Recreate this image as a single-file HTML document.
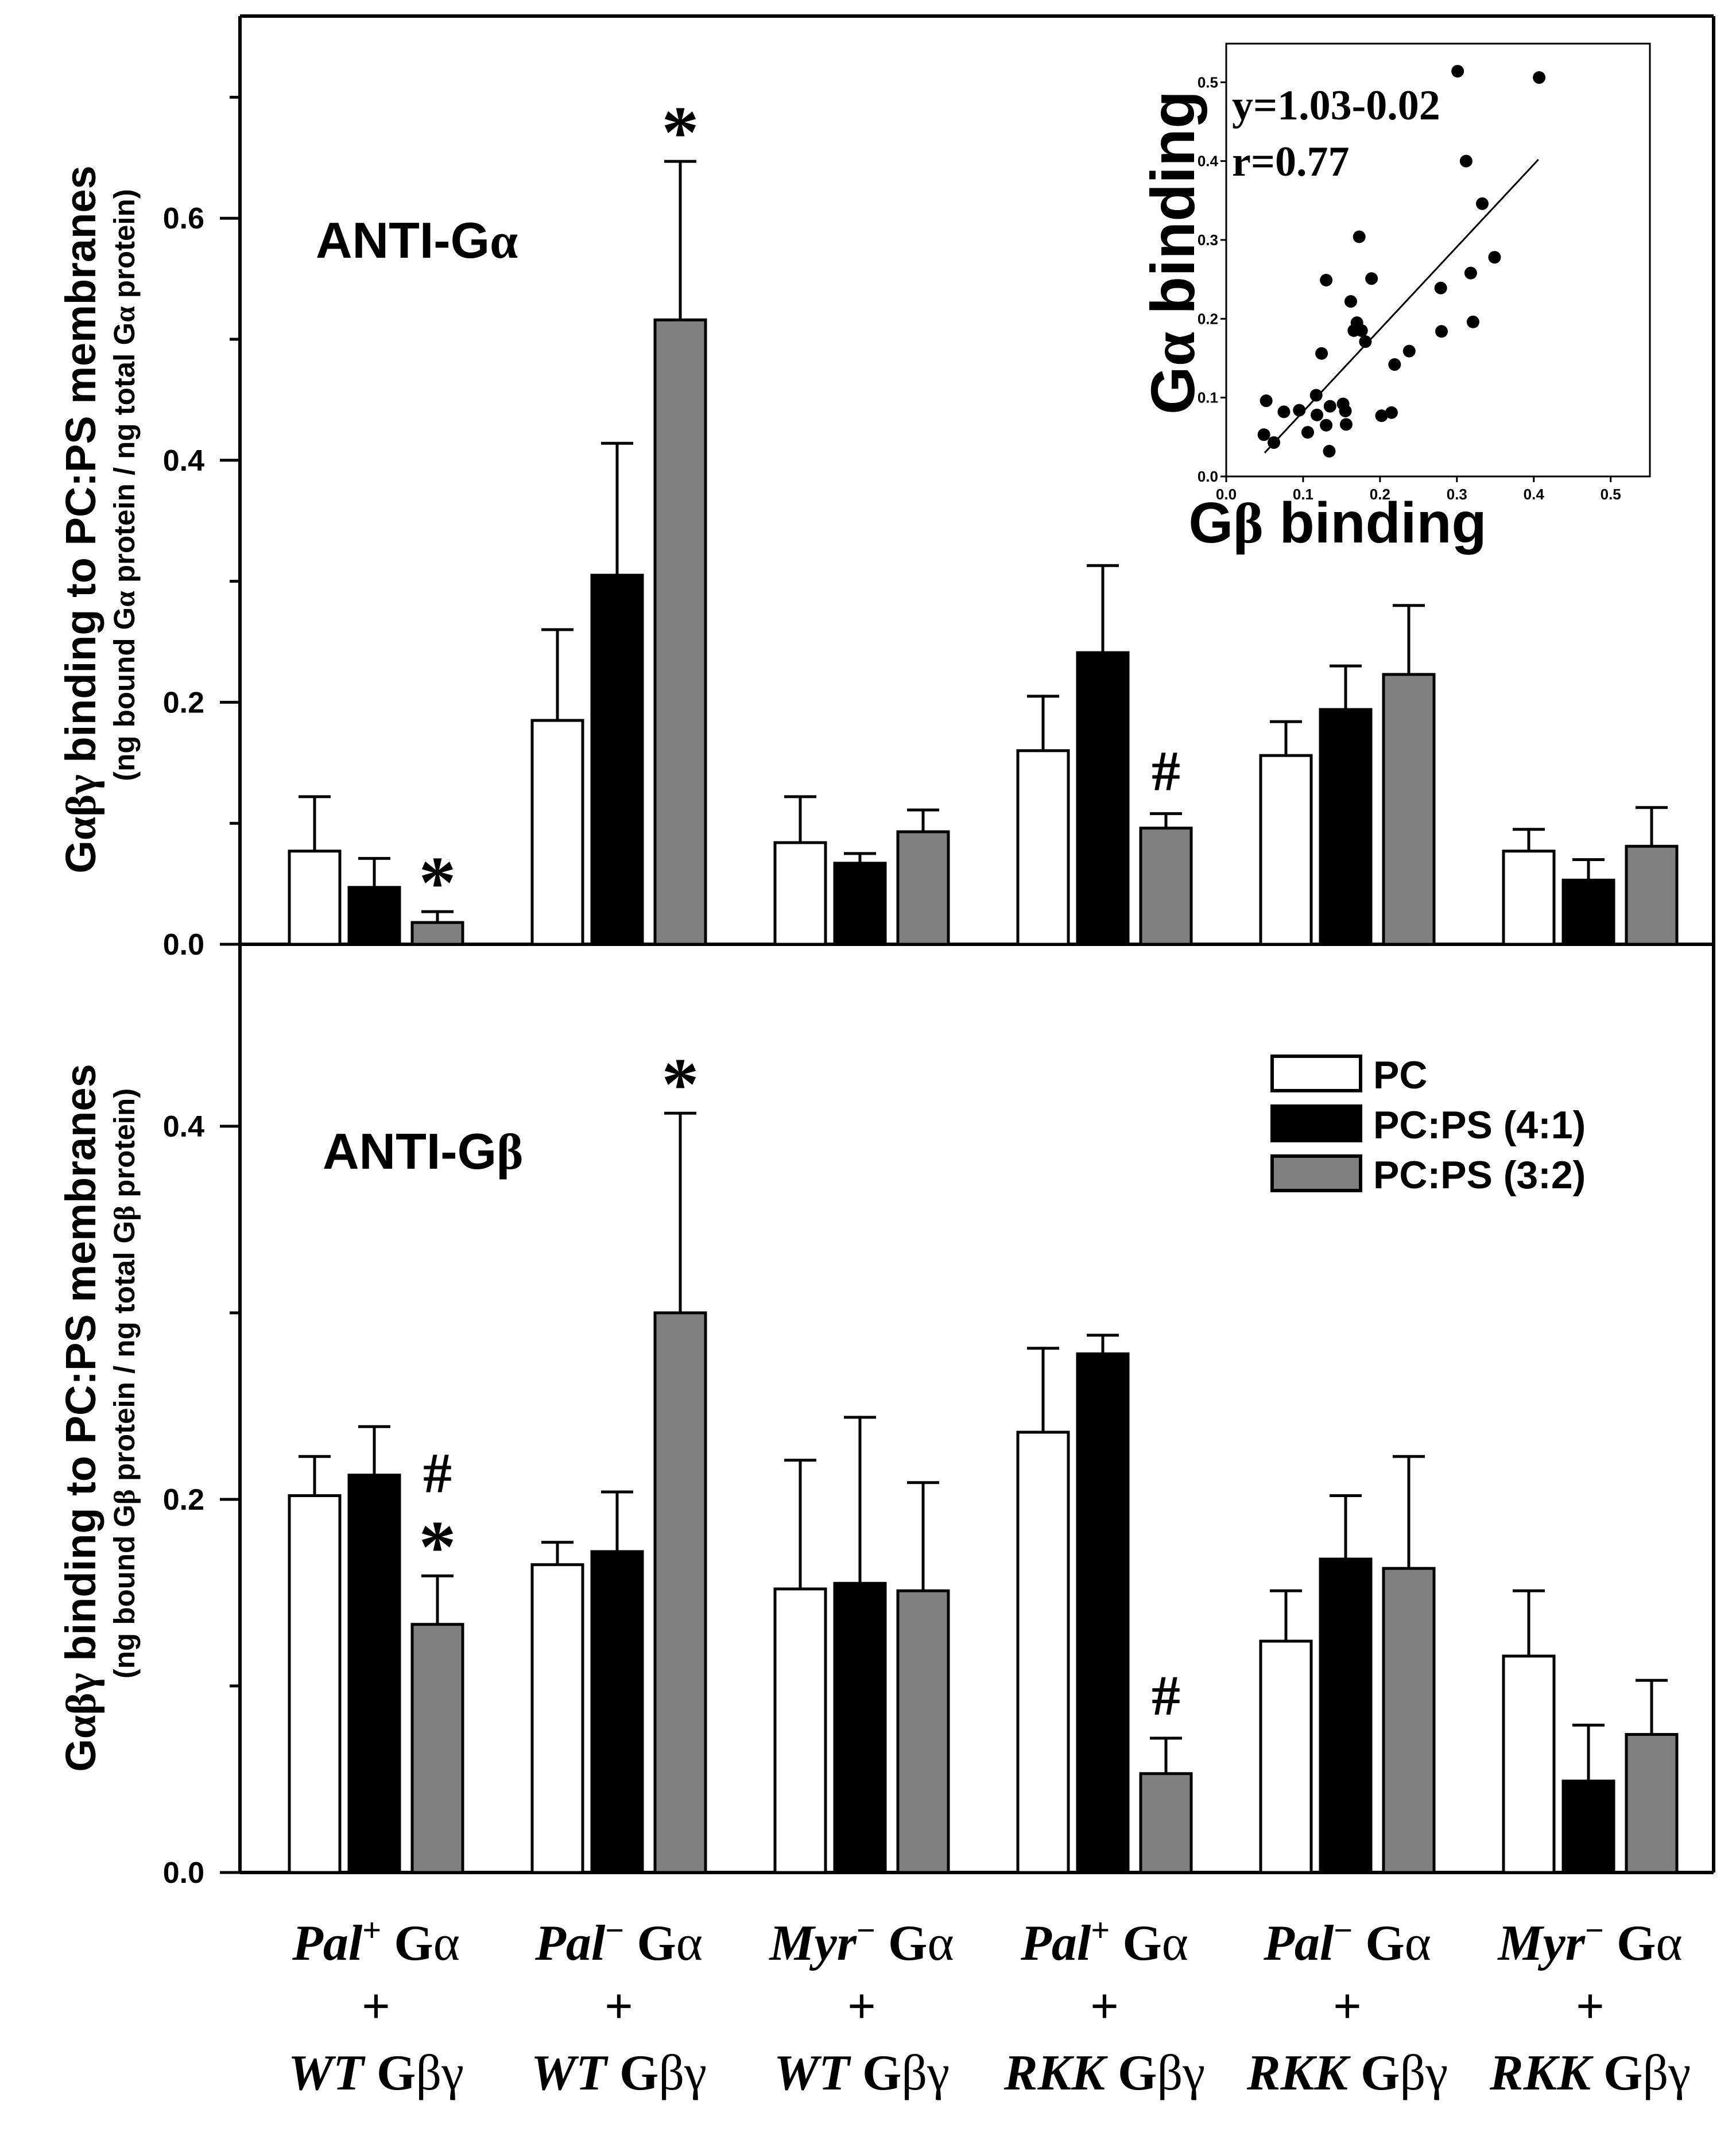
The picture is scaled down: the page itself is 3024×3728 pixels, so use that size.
<!DOCTYPE html>
<html><head><meta charset="utf-8"><style>
html,body{margin:0;padding:0;background:#fff;}
svg{display:block;}
.sans{font-family:"Liberation Sans",Arial,sans-serif;font-weight:bold;}
.serif{font-family:"Liberation Serif","Times New Roman",serif;font-weight:bold;}
</style></head><body>
<svg id="chart" xmlns="http://www.w3.org/2000/svg" width="3024" height="3728" viewBox="0 0 3024 3728">
<rect x="0" y="0" width="3024" height="3728" fill="#fff"/>
<g id="frame" stroke="#000" stroke-width="6" fill="none">
  <line x1="418" y1="28" x2="2985" y2="28"/>
  <line x1="2985" y1="28" x2="2985" y2="3262"/>
  <line x1="418" y1="28" x2="418" y2="3262"/>
  <line x1="418" y1="1645" x2="2985" y2="1645"/>
  <line x1="418" y1="3262" x2="2985" y2="3262"/>
</g>
<g id="top-panel"></g>
<g id="bot-panel"></g>
<g id="inset"></g>
<text class="sans" x="550" y="449" font-size="88">ANTI-G<tspan class="serif" font-weight="normal">α</tspan></text>
<text class="sans" x="562" y="2036" font-size="88">ANTI-G<tspan class="serif" font-weight="normal">β</tspan></text>
<text class="sans" transform="translate(166,905) rotate(-90)" text-anchor="middle" font-size="74">G<tspan class="serif" font-weight="normal">αβγ</tspan> binding to PC:PS membranes</text>
<text class="sans" transform="translate(234,845) rotate(-90)" text-anchor="middle" font-size="51">(ng bound G<tspan class="serif" font-weight="normal">α</tspan> protein / ng total G<tspan class="serif" font-weight="normal">α</tspan> protein)</text>
<text class="sans" transform="translate(166,2470) rotate(-90)" text-anchor="middle" font-size="74">G<tspan class="serif" font-weight="normal">αβγ</tspan> binding to PC:PS membranes</text>
<text class="sans" transform="translate(234,2410) rotate(-90)" text-anchor="middle" font-size="51">(ng bound G<tspan class="serif" font-weight="normal">β</tspan> protein / ng total G<tspan class="serif" font-weight="normal">β</tspan> protein)</text>
<g id="legend">
  <g><rect x="2216" y="1840" width="154" height="60" fill="#fff" stroke="#000" stroke-width="6"/><text class="sans" x="2392" y="1896" font-size="68">PC</text></g>
  <g><rect x="2216" y="1927" width="154" height="60" fill="#000" stroke="#000" stroke-width="6"/><text class="sans" x="2392" y="1983" font-size="68">PC:PS (4:1)</text></g>
  <g><rect x="2216" y="2014" width="154" height="60" fill="#808080" stroke="#000" stroke-width="6"/><text class="sans" x="2392" y="2070" font-size="68">PC:PS (3:2)</text></g>
</g>
<g id="xlabels"></g>
</svg>
<script>
const NS="http://www.w3.org/2000/svg";
const groupLabelsA=[["Pal","+"],["Pal","−"],["Myr","−"],["Pal","+"],["Pal","−"],["Myr","−"]];
const groupLabelsB=["WT","WT","WT","RKK","RKK","RKK"];
const seriesNames=["PC","PC:PS (4:1)","PC:PS (3:2)"];
const topPC=[0.077,0.185,0.084,0.160,0.156,0.077];
const topPS41=[0.047,0.305,0.067,0.241,0.194,0.053];
const topPS32=[0.018,0.516,0.093,0.096,0.223,0.081];
const topPCErr=[0.122,0.260,0.122,0.205,0.184,0.095];
const topPS41Err=[0.071,0.414,0.075,0.313,0.230,0.070];
const topPS32Err=[0.027,0.647,0.111,0.108,0.280,0.113];
const topMarks=[["*"],["*"],[],["#"],[],[]];
const botPC=[0.202,0.165,0.152,0.236,0.124,0.116];
const botPS41=[0.213,0.172,0.155,0.278,0.168,0.049];
const botPS32=[0.133,0.300,0.151,0.053,0.163,0.074];
const botPCErr=[0.223,0.177,0.221,0.281,0.151,0.151];
const botPS41Err=[0.239,0.204,0.244,0.288,0.202,0.079];
const botPS32Err=[0.159,0.407,0.209,0.072,0.223,0.103];
const botMarks=[["#","*"],["*"],[],["#"],[],[]];
const topTicks=[0,0.1,0.2,0.3,0.4,0.5,0.6,0.7];
const topTickLabels=["0.0","","0.2","","0.4","","0.6",""];
const botTicks=[0,0.1,0.2,0.3,0.4];
const botTickLabels=["0.0","","0.2","","0.4"];
const scatterX=[0.301,0.407,0.312,0.333,0.349,0.318,0.321,0.279,0.280,0.238,0.219,0.173,0.189,0.130,0.162,0.170,0.166,0.176,0.181,0.124,0.117,0.052,0.075,0.095,0.118,0.135,0.152,0.155,0.156,0.130,0.106,0.049,0.062,0.134,0.202,0.215];
const scatterY=[0.514,0.506,0.400,0.346,0.278,0.258,0.196,0.239,0.184,0.159,0.142,0.304,0.251,0.249,0.222,0.195,0.185,0.185,0.171,0.156,0.103,0.096,0.082,0.084,0.078,0.089,0.092,0.083,0.066,0.065,0.056,0.053,0.043,0.032,0.077,0.081];
const fitX=[0.05,0.406];
const fitY=[0.030,0.402];
const insetTicks=[0,0.1,0.2,0.3,0.4,0.5];

const fills=["#fff","#000","#808080"];
const gx=i=>504+i*423;
const barOff=[0,104,214], BW=88;
function el(tag,attrs,parent){const e=document.createElementNS(NS,tag);for(const k in attrs)e.setAttribute(k,attrs[k]);parent.appendChild(e);return e;}

function panel(gid,zero,per01,ticks,tickLabels,vals,errs,marks,prefix){
  const g=document.getElementById(gid);
  const y=v=>zero-v*per01*10;
  ticks.forEach((t,i)=>{
    const major=tickLabels[i]!=="";
    const tk=el("line",{x1:418-(major?35:18),y1:y(t),x2:418,y2:y(t),stroke:"#000","stroke-width":5},g);
    
    
    if(major){
      const tl=el("text",{x:356,y:y(t)+18,"text-anchor":"end","font-size":52,class:"sans"},g);
      
      
      tl.textContent=tickLabels[i];
    }
  });
  for(let gi=0;gi<6;gi++){
    for(let s=0;s<3;s++){
      const v=vals[s][gi], e=errs[s][gi];
      const x=gx(gi)+barOff[s], cx=x+BW/2;
      const eb=el("line",{x1:cx,y1:y(e),x2:cx,y2:y(v),stroke:"#000","stroke-width":5},g);
      
      
      const cap=el("line",{x1:cx-28,y1:y(e),x2:cx+28,y2:y(e),stroke:"#000","stroke-width":5},g);
      
      
      const r=el("rect",{x:x,y:y(v),width:BW,height:zero-y(v),fill:fills[s],stroke:"#000","stroke-width":5},g);
      
      
    }
    const m=marks[gi];
    if(m.length){
      const cx=gx(gi)+barOff[2]+BW/2;
      const top=y(errs[2][gi]);
      m.slice().reverse().forEach((sym,k)=>{
        const center=top-75-k*105;
        const t=el("text",{x:cx,"text-anchor":"middle",class:"serif","font-weight":"normal"},g);
        if(sym==="*"){t.setAttribute("font-size",130);t.setAttribute("y",center+68);}
        else{t.setAttribute("font-size",100);t.setAttribute("y",center+34);}
        
        
        t.textContent=sym;
      });
    }
  }
}
panel("top-panel",1645,210.8,topTicks,topTickLabels,[topPC,topPS41,topPS32],[topPCErr,topPS41Err,topPS32Err],topMarks,"top");
panel("bot-panel",3262,325,botTicks,botTickLabels,[botPC,botPS41,botPS32],[botPCErr,botPS41Err,botPS32Err],botMarks,"bottom");

const xl=document.getElementById("xlabels");
for(let gi=0;gi<6;gi++){
  const cx=gx(gi)+151;
  const t1=el("text",{x:cx,y:3414,"text-anchor":"middle",class:"serif","font-size":88},xl);
  
  
  t1.innerHTML='<tspan font-style="italic">'+groupLabelsA[gi][0]+'</tspan><tspan font-size="58" dy="-32">'+groupLabelsA[gi][1]+'</tspan><tspan dy="32"> G</tspan><tspan font-weight="normal">α</tspan>';
  const t2=el("text",{x:cx,y:3524,"text-anchor":"middle",class:"serif","font-size":88,"font-weight":"normal"},xl);
  
  
  t2.textContent="+";
  const t3=el("text",{x:cx,y:3640,"text-anchor":"middle",class:"serif","font-size":88},xl);
  
  
  t3.innerHTML='<tspan font-style="italic">'+groupLabelsB[gi]+'</tspan> G<tspan font-weight="normal">βγ</tspan>';
}

const ig=document.getElementById("inset");
const IX0=2136,IX1=2874,IY0=76,IY1=830, DMAX=0.551;
const ix=v=>IX0+v/DMAX*(IX1-IX0);
const iy=v=>IY1-v/0.549*(IY1-IY0);
const box=el("rect",{x:IX0,y:IY0,width:IX1-IX0,height:IY1-IY0,fill:"#fff",stroke:"#000","stroke-width":3},ig);


insetTicks.forEach(t=>{
  const a=el("line",{x1:ix(t),y1:IY1,x2:ix(t),y2:IY1+10,stroke:"#000","stroke-width":3},ig);
  
  
  const b=el("line",{x1:IX0-10,y1:iy(t),x2:IX0,y2:iy(t),stroke:"#000","stroke-width":3},ig);
  
  
  const lx=el("text",{x:ix(t),y:IY1+40,"text-anchor":"middle","font-size":26,class:"sans"},ig);
  
  
  lx.textContent=t.toFixed(1);
  const ly=el("text",{x:IX0-14,y:iy(t)+9,"text-anchor":"end","font-size":26,class:"sans"},ig);
  
  
  ly.textContent=t.toFixed(1);
});
const fl=el("line",{x1:ix(fitX[0]),y1:iy(fitY[0]),x2:ix(fitX[1]),y2:iy(fitY[1]),stroke:"#000","stroke-width":3},ig);


scatterX.forEach((xv,i)=>{
  const c=el("circle",{cx:ix(xv),cy:iy(scatterY[i]),r:11,fill:"#000"},ig);
  
  
});
const eq=el("text",{x:IX0+10,y:208,"font-size":74,class:"serif"},ig);


eq.textContent="y=1.03-0.02";
const rr=el("text",{x:IX0+10,y:306,"font-size":74,class:"serif"},ig);


rr.textContent="r=0.77";
const iyt=el("text",{transform:"translate(2080,440) rotate(-90)","text-anchor":"middle","font-size":108,class:"sans"},ig);


iyt.innerHTML='G<tspan class="serif" font-weight="normal">α</tspan> binding';
const ixt=el("text",{x:2330,y:945,"text-anchor":"middle","font-size":100,class:"sans"},ig);


ixt.innerHTML='G<tspan class="serif" font-weight="normal">β</tspan> binding';
</script>
</body></html>
